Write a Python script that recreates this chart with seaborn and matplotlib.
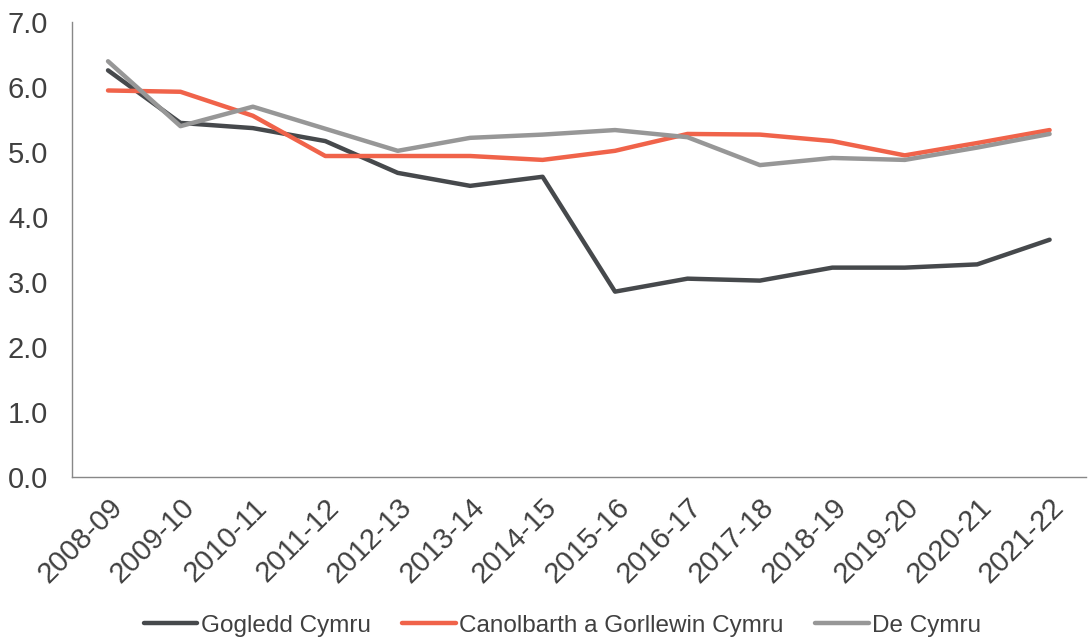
import pandas as pd
import numpy as np
import matplotlib
import matplotlib.pyplot as plt
import seaborn as sns

sns.set_style("white")
plt.rcParams["font.family"] = ["Liberation Sans", "DejaVu Sans"]
plt.rcParams["axes.linewidth"] = 1

years = ['2008-09', '2009-10', '2010-11', '2011-12', '2012-13', '2013-14', '2014-15',
         '2015-16', '2016-17', '2017-18', '2018-19', '2019-20', '2020-21', '2021-22']
gogledd = [6.26, 5.45, 5.37, 5.17, 4.68, 4.48, 4.62, 2.85, 3.05, 3.02, 3.22, 3.22, 3.27, 3.65]
canolbarth = [5.95, 5.93, 5.56, 4.94, 4.94, 4.94, 4.88, 5.02, 5.28, 5.27, 5.17, 4.95, 5.14, 5.34]
de = [6.40, 5.40, 5.70, 5.36, 5.02, 5.22, 5.27, 5.34, 5.23, 4.80, 4.91, 4.88, 5.07, 5.28]

names = ['Gogledd Cymru', 'Canolbarth a Gorllewin Cymru', 'De Cymru']
colors = ['#46494C', '#F0634A', '#979797']

data = pd.DataFrame({
    'year': years * 3,
    'value': gogledd + canolbarth + de,
    'region': [names[0]] * len(years) + [names[1]] * len(years) + [names[2]] * len(years),
})

fig = plt.figure(figsize=(10.88, 6.38), dpi=100)
ax = fig.add_axes([0.066, 0.253, 0.932, 0.712])
sns.lineplot(data=data, x='year', y='value', hue='region', hue_order=names,
             palette=colors, linewidth=3.2, ax=ax, sort=False)

ax.set_ylim(0, 7)
ax.set_yticks(np.arange(0, 7.1, 1))
ax.set_yticklabels([f'{v:.1f}' for v in np.arange(0, 7.1, 1)])
ax.set_xlim(-0.5, len(years) - 0.5)
ax.set_xlabel('')
ax.set_ylabel('')
for s in ['top', 'right']:
    ax.spines[s].set_visible(False)
for s in ['left', 'bottom']:
    ax.spines[s].set_color('#888888')
ax.tick_params(axis='both', labelsize=21, colors='#404040', length=0)
ax.tick_params(axis='y', pad=17)
ax.tick_params(axis='x', pad=12)
plt.setp(ax.get_xticklabels(), rotation=45, ha='right', rotation_mode='anchor')

h, l = ax.get_legend_handles_labels()
ax.get_legend().remove()
fig.legend(h, l, loc='center', bbox_to_anchor=(0.517, 0.019), ncols=3,
           frameon=False, fontsize=17.5, handlelength=2.2, handletextpad=0.15,
           columnspacing=1.3, labelcolor='#404040', borderpad=0)

fig.savefig('out.png', dpi=100)
